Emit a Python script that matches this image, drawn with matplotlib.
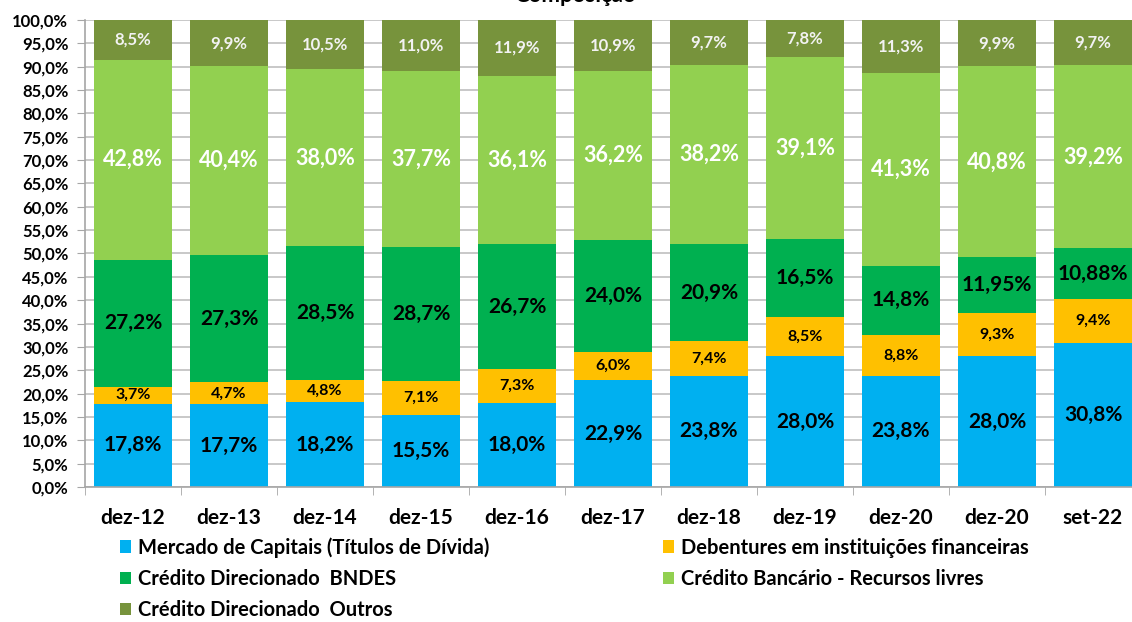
import numpy as np
import matplotlib.pyplot as plt

# dados
categorias = ["dez-12", "dez-13", "dez-14", "dez-15", "dez-16", "dez-17",
              "dez-18", "dez-19", "dez-20", "dez-20", "set-22"]
mercado = [17.8, 17.7, 18.2, 15.5, 18.0, 22.9, 23.8, 28.0, 23.8, 28.0, 30.8]
debentures = [3.7, 4.7, 4.8, 7.1, 7.3, 6.0, 7.4, 8.5, 8.8, 9.3, 9.4]
bndes = [27.2, 27.3, 28.5, 28.7, 26.7, 24.0, 20.9, 16.5, 14.8, 11.95, 10.88]
livres = [42.8, 40.4, 38.0, 37.7, 36.1, 36.2, 38.2, 39.1, 41.3, 40.8, 39.2]
outros = [8.5, 9.9, 10.5, 11.0, 11.9, 10.9, 9.7, 7.8, 11.3, 9.9, 9.7]

series = [
    ("Mercado de Capitais (Títulos de Dívida)", mercado, "#00B0F0", "black", 15),
    ("Debentures em instituições financeiras", debentures, "#FFC000", "black", 11.5),
    ("Crédito Direcionado  BNDES", bndes, "#00B050", "black", 15),
    ("Crédito Bancário - Recursos livres", livres, "#92D050", "white", 15.5),
    ("Crédito Direcionado  Outros", outros, "#77933C", "#F2F2F2", 12),
]

plt.rcParams['font.family'] = ['Lato', 'DejaVu Sans']
plt.rcParams['font.weight'] = 'bold'

fig = plt.figure(figsize=(11.32, 6.22), dpi=100)
ax = fig.add_axes([85/1132, 1 - 487/622, (1141 - 85)/1132, (487 - 20)/622])

x = np.arange(len(categorias))
base = np.zeros(len(categorias))
handles = {}
for nome, vals, cor, cor_txt, fs in series:
    vals = np.array(vals)
    b = ax.bar(x, vals, bottom=base, width=0.81, color=cor, label=nome, zorder=2)
    handles[nome] = b
    for xi, v, bo in zip(x, vals, base):
        txt = f"{v:.2f}".rstrip("0") if round(v * 100) % 10 else f"{v:.1f}"
        txt = txt.replace(".", ",") + "%"
        ax.text(xi, bo + v / 2, txt, ha="center", va="center", color=cor_txt,
                fontsize=fs, fontweight="bold", zorder=3)
    base = base + vals

ax.set_xlim(-0.5, len(categorias) - 0.5)
ax.set_ylim(0, 100)
ax.set_yticks(np.arange(0, 101, 5))
ax.set_yticklabels([f"{t:.1f}".replace(".", ",") + "%" for t in np.arange(0, 101, 5)],
                   fontsize=12, fontweight="bold")
ax.set_xticks(x)
ax.set_xticklabels(categorias, fontsize=15, fontweight="bold")
ax.set_xticks(np.arange(-0.5, len(categorias), 1), minor=True)
ax.tick_params(axis="x", which="major", length=0, pad=15)
ax.tick_params(axis="x", which="minor", length=6, color="#A6A6A6")
ax.tick_params(axis="y", length=6, color="#A6A6A6", pad=6)
ax.yaxis.grid(True, color="#BFBFBF", linewidth=1.2, zorder=0)
ax.set_axisbelow(True)
for s in ["top", "right"]:
    ax.spines[s].set_visible(False)
for s in ["left", "bottom"]:
    ax.spines[s].set_color("#A6A6A6")
    ax.spines[s].set_linewidth(1.2)

ordem = ["Mercado de Capitais (Títulos de Dívida)", "Crédito Direcionado  BNDES",
         "Crédito Direcionado  Outros", "Debentures em instituições financeiras",
         "Crédito Bancário - Recursos livres"]
fig.legend([handles[n] for n in ordem], ordem, loc="upper left",
           bbox_to_anchor=(112/1132, 1 - 529/622), ncol=2, frameon=False,
           prop={"size": 14.5, "weight": "bold"}, handlelength=0.55, handleheight=0.55,
           handletextpad=0.35, columnspacing=8.6, labelspacing=0.55,
           borderaxespad=0)

fig.text(0.508, 1 - 2/622, "Composição", ha="center", va="baseline",
         fontsize=16, fontweight="bold")

fig.savefig("out.png", dpi=100)
